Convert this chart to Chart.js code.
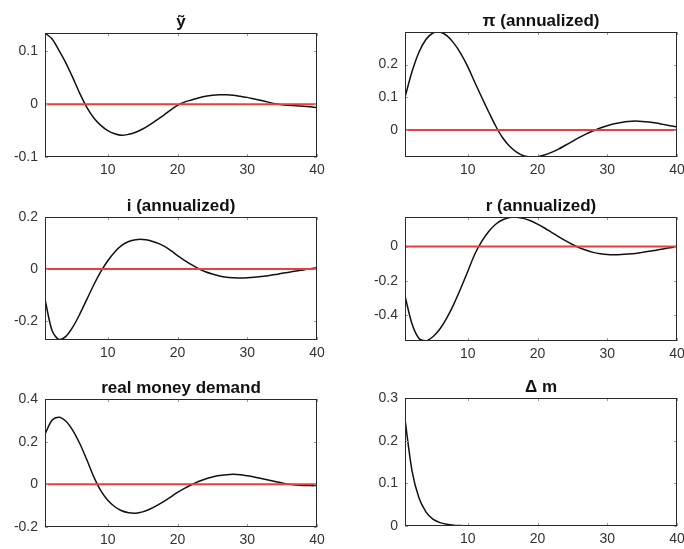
<!DOCTYPE html>
<html>
<head>
<meta charset="utf-8">
<script src="https://cdn.jsdelivr.net/npm/chart.js@4/dist/chart.umd.min.js"></script>
<style>
  html, body { margin: 0; padding: 0; background: #fff; overflow: hidden; }
  body { width: 684px; height: 549px; position: relative; }
  canvas { position: absolute; }
</style>
</head>
<body>
<canvas id="c1"></canvas>
<canvas id="c2"></canvas>
<canvas id="c3"></canvas>
<canvas id="c4"></canvas>
<canvas id="c5"></canvas>
<canvas id="c6"></canvas>
<script>
    const periods = [1, 2, 3, 4, 5, 6, 7, 8, 9, 10, 11, 12, 13, 14, 15, 16, 17, 18, 19, 20,
        21, 22, 23, 24, 25, 26, 27, 28, 29, 30, 31, 32, 33, 34, 35, 36, 37, 38, 39, 40];
    const xTicks = [10, 20, 30, 40];

    const outputGap = [0.135, 0.124, 0.102, 0.078, 0.050, 0.020, -0.006, -0.026, -0.040, -0.050,
        -0.056, -0.059, -0.057, -0.053, -0.047, -0.039, -0.030, -0.021, -0.011, -0.002,
        0.004, 0.008, 0.012, 0.015, 0.017, 0.018, 0.018, 0.017, 0.015, 0.013,
        0.010, 0.007, 0.004, 0.001, -0.001, -0.002, -0.003, -0.004, -0.005, -0.006];
    const inflation = [0.100, 0.178, 0.238, 0.277, 0.297, 0.300, 0.289, 0.266, 0.234, 0.194,
        0.146, 0.100, 0.055, 0.012, -0.024, -0.050, -0.068, -0.079, -0.083, -0.082,
        -0.077, -0.069, -0.059, -0.047, -0.035, -0.023, -0.012, -0.003, 0.006, 0.013,
        0.019, 0.023, 0.026, 0.027, 0.026, 0.024, 0.021, 0.017, 0.013, 0.009];
    const nominalRate = [-0.115, -0.235, -0.270, -0.258, -0.222, -0.172, -0.116, -0.060, -0.010, 0.032,
        0.066, 0.091, 0.106, 0.113, 0.114, 0.110, 0.101, 0.089, 0.072, 0.052,
        0.034, 0.017, 0.002, -0.010, -0.019, -0.026, -0.031, -0.033, -0.034, -0.033,
        -0.031, -0.028, -0.025, -0.021, -0.016, -0.012, -0.007, -0.003, 0.001, 0.005];
    const realRate = [-0.288, -0.450, -0.535, -0.548, -0.525, -0.480, -0.415, -0.335, -0.243, -0.145,
        -0.045, 0.030, 0.088, 0.130, 0.156, 0.169, 0.171, 0.164, 0.150, 0.131,
        0.108, 0.083, 0.058, 0.034, 0.012, -0.007, -0.022, -0.034, -0.042, -0.047,
        -0.048, -0.047, -0.044, -0.040, -0.034, -0.028, -0.021, -0.014, -0.007, -0.001];
    const moneyDemand = [0.235, 0.300, 0.315, 0.296, 0.252, 0.190, 0.115, 0.035, -0.030, -0.075,
        -0.105, -0.124, -0.133, -0.135, -0.129, -0.117, -0.100, -0.081, -0.060, -0.038,
        -0.019, -0.002, 0.013, 0.025, 0.034, 0.041, 0.045, 0.047, 0.045, 0.040,
        0.034, 0.027, 0.020, 0.013, 0.006, 0.000, -0.003, -0.005, -0.006, -0.006];
    const moneyGrowth = [0.250, 0.130, 0.066, 0.033, 0.016, 0.008, 0.004, 0.002, 0.001, 0,
        0, 0, 0, 0, 0, 0, 0, 0, 0, 0,
        0, 0, 0, 0, 0, 0, 0, 0, 0, 0,
        0, 0, 0, 0, 0, 0, 0, 0, 0, 0];

    const titles = ['ỹ', 'π (annualized)', 'i (annualized)', 'r (annualized)', 'real money demand', 'Δ m'];
    const yTicks = [[-0.1, 0, 0.1], [0, 0.1, 0.2], [-0.2, 0, 0.2], [-0.4, -0.2, 0], [-0.2, 0, 0.2, 0.4], [0, 0.1, 0.2, 0.3]];
    const yLimits = [[-0.1, 0.135], [-0.083, 0.30], [-0.272, 0.2], [-0.55, 0.172], [-0.2, 0.4], [0, 0.3]];

    // plot box of each panel in page pixels: left, top, right, bottom
    const boxes = [[45, 33, 317, 157], [405, 32, 677, 157], [45, 217, 317, 340],
                   [405, 217, 677, 341], [45, 399, 317, 527], [405, 398, 677, 526]];

    const FONT = "'Liberation Sans', Arial, sans-serif";

    // MATLAB-like box with inward ticks on all four sides
    const boxTicks = {
        id: 'boxTicks',
        afterDraw(chart) {
            const ctx = chart.ctx;
            const a = chart.chartArea;
            const tl = 3;
            ctx.save();
            ctx.strokeStyle = '#9a9a9a';
            ctx.lineWidth = 1;
            ctx.beginPath();
            chart.scales.x.ticks.forEach(t => {
                const px = Math.round(chart.scales.x.getPixelForValue(t.value)) + 0.5;
                ctx.moveTo(px, a.bottom); ctx.lineTo(px, a.bottom - tl);
                ctx.moveTo(px, a.top); ctx.lineTo(px, a.top + tl);
            });
            chart.scales.y.ticks.forEach(t => {
                const py = Math.round(chart.scales.y.getPixelForValue(t.value)) + 0.5;
                ctx.moveTo(a.left, py); ctx.lineTo(a.left + tl, py);
                ctx.moveTo(a.right, py); ctx.lineTo(a.right - tl, py);
            });
            ctx.stroke();
            ctx.strokeStyle = '#2a2a2a';
            ctx.strokeRect(Math.round(a.left) + 0.5, Math.round(a.top) + 0.5,
                Math.round(a.right - a.left) - 1, Math.round(a.bottom - a.top) - 1);
            ctx.restore();
        }
    };

    function makePanel(idx, values) {
        const [l, t, r, b] = boxes[idx];
        const canvas = document.getElementById('c' + (idx + 1));
        const w = (r - l) + 45 + 25;
        const h = (b - t) + 32 + 22;
        canvas.width = w;
        canvas.height = h;
        canvas.style.left = (l - 45) + 'px';
        canvas.style.top = (t - 32) + 'px';

        const zeroLine = periods.map(() => 0);

        return new Chart(canvas.getContext('2d'), {
            type: 'line',
            data: {
                labels: periods,
                datasets: [{
                    data: periods.map((p, i) => ({ x: p, y: values[i] })),
                    borderColor: '#111',
                    borderWidth: 1.5,
                    pointRadius: 0,
                    tension: 0.3,
                    order: 2
                }, {
                    data: periods.map((p, i) => ({ x: p, y: zeroLine[i] })),
                    borderColor: 'rgb(236, 62, 62)',
                    borderWidth: 2,
                    pointRadius: 0,
                    order: 1
                }]
            },
            options: {
                responsive: false,
                animation: false,
                layout: { padding: { left: 0, right: 25, top: 0, bottom: 0 } },
                plugins: {
                    legend: { display: false },
                    tooltip: { enabled: false },
                    title: {
                        display: true,
                        fullSize: false,
                        text: titles[idx],
                        color: '#111',
                        font: { family: FONT, size: 17, weight: 'bold', lineHeight: 1 },
                        padding: { top: 12.5, bottom: 2.5 }
                    }
                },
                scales: {
                    x: {
                        type: 'linear',
                        min: 1,
                        max: 40,
                        grid: { display: false, drawTicks: false },
                        border: { display: false },
                        afterBuildTicks: s => { s.ticks = xTicks.map(v => ({ value: v })); },
                        afterFit: s => { s.height = 22; },
                        ticks: {
                            padding: 5,
                            maxRotation: 0,
                            color: '#333',
                            font: { family: FONT, size: 14 },
                            callback: v => String(v)
                        }
                    },
                    y: {
                        min: yLimits[idx][0],
                        max: yLimits[idx][1],
                        grid: { display: false, drawTicks: false },
                        border: { display: false },
                        afterBuildTicks: s => { s.ticks = yTicks[idx].map(v => ({ value: v })); },
                        afterFit: s => { s.width = 45; },
                        ticks: {
                            padding: 7,
                            color: '#333',
                            font: { family: FONT, size: 14 },
                            callback: v => String(Number(v.toFixed(2)))
                        }
                    }
                }
            },
            plugins: [boxTicks]
        });
    }

    makePanel(0, outputGap);
    makePanel(1, inflation);
    makePanel(2, nominalRate);
    makePanel(3, realRate);
    makePanel(4, moneyDemand);
    makePanel(5, moneyGrowth);
</script>
</body>
</html>
